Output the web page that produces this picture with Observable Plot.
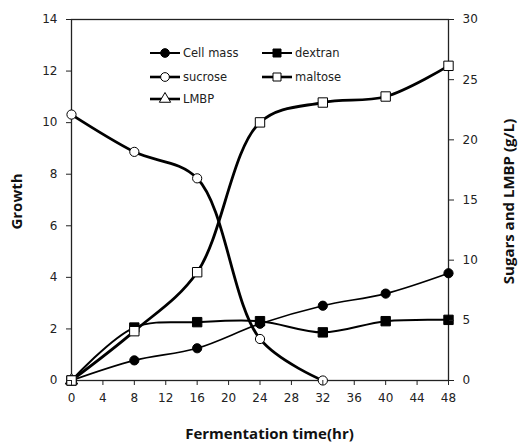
<!DOCTYPE html>
<html><head><meta charset="utf-8">
<script src="https://cdn.jsdelivr.net/npm/d3@7"></script>
<script src="https://cdn.jsdelivr.net/npm/@observablehq/plot@0.6"></script>
<style>
body{margin:0;background:#fff;}
#chart{position:relative;width:519px;height:444px;}
</style>
</head><body><div id="chart"></div>
<script>
// Data
const times = [0, 8, 16, 24, 32, 40, 48];
const cellMass = [0, 0.78, 1.25, 2.2, 2.9, 3.37, 4.16];        // growth (left axis)
const dextran  = [0, 4.4, 4.85, 4.93, 4.0, 4.93, 5.04];         // g/L (right axis)
const sucrose  = [22.1, 19.0, 16.8, 3.45, 0];                   // g/L, times 0..32
const maltose  = [0, 4.1, 9.0, 21.45, 23.1, 23.6, 26.15];      // g/L
const lmbp     = [0];                                           // g/L
const xTicks = [0,4,8,12,16,20,24,28,32,36,40,44,48];
const leftTicks = [0,2,4,6,8,10,12,14];
const rightTicks = [0,5,10,15,20,25,30];
const xTitle = "Fermentation time(hr)";
const yLeftTitle = "Growth";
const yRightTitle = "Sugars and LMBP (g/L)";

const G_MAX = 14, S_MAX = 30;
const toLeft = v => v * G_MAX / S_MAX;

const series = [
  {name:"Cell mass", vals: cellMass, scale:"g", symbol:"circle", fill:"#000", sw:1.6},
  {name:"dextran", vals: dextran, scale:"s", symbol:"square", fill:"#000", sw:2},
  {name:"sucrose", vals: sucrose, scale:"s", symbol:"circle", fill:"#fff", sw:2.8},
  {name:"maltose", vals: maltose, scale:"s", symbol:"square", fill:"#fff", sw:2.8},
  {name:"LMBP", vals: lmbp, scale:"s", symbol:"triangle", fill:"#fff", sw:2.8}
];
const rows = s => s.vals.map((v,i)=>({t: times[i], y: s.scale==="g" ? v : toLeft(v)}));

const marks = [];
marks.push(Plot.frame({stroke:"#222", strokeWidth:1.3}));
for (const s of series) {
  const d = rows(s);
  if (d.length > 1) marks.push(Plot.line(d, {x:"t", y:"y", curve:"catmull-rom", stroke:"#000", strokeWidth:s.sw}));
}
const dotOrder = ["LMBP","Cell mass","dextran","sucrose","maltose"];
for (const nm of dotOrder) {
  const s = series.find(q=>q.name===nm);
  const d = rows(s);
  marks.push(Plot.dot(d, {x:"t", y:"y", symbol: s.symbol, r: s.symbol==="square"?5.3:4.6, fill:s.fill, stroke:"#000", strokeWidth:1}));
}
marks.push(Plot.axisX(xTicks, {tickSize:5, tickPadding:8, fontSize:12, label:null}));
marks.push(Plot.axisY(leftTicks, {anchor:"left", tickSize:5, tickPadding:9, fontSize:12, label:null}));
marks.push(Plot.axisY(rightTicks.map(toLeft), {anchor:"right", tickSize:5, tickPadding:9, fontSize:12, tickFormat: d => String(Math.round(d*S_MAX/G_MAX)), label:null}));

const W = 519, H = 444, ML = 71, MR = 71, MT = 19, MB = 64;
const plot = Plot.plot({
  width:W, height:H,
  marginLeft:ML, marginRight:MR, marginTop:MT, marginBottom:MB,
  style:{fontFamily:"DejaVu Sans, sans-serif", fontSize:"12px", color:"#222", background:"#fff"},
  x:{domain:[0,48], label:null},
  y:{domain:[0,G_MAX], label:null},
  marks
});
document.getElementById("chart").appendChild(plot);

const svg = d3.select(plot);
const cy = (MT + H - MB) / 2 + 2;
const tg = svg.append("g").attr("font-family","Open Sans, sans-serif").attr("font-weight","bold").attr("font-size","15px").attr("fill","#111").attr("text-anchor","middle");
tg.append("text").attr("x",(ML + W - MR)/2 + 10).attr("y",H-5).text(xTitle);
tg.append("text").attr("transform",`translate(${ML-54},${cy}) rotate(-90)`).attr("dy","0.35em").text(yLeftTitle);
tg.append("text").attr("transform",`translate(${W-MR+61},${cy}) rotate(-90)`).attr("dy","0.35em").text(yRightTitle);

// legend
const lg = svg.append("g").attr("font-family","DejaVu Sans, sans-serif").attr("font-size","11.5px").attr("fill","#222").attr("text-anchor","start");
const layout = [[0,0],[1,0],[0,1],[1,1],[0,2]];
const legendOrder = ["Cell mass","dextran","sucrose","maltose","LMBP"];
const colX = [150, 262], rowY = [53, 77, 99];
legendOrder.forEach((nm,i)=>{
  const s = series.find(q=>q.name===nm);
  const [c,r] = layout[i];
  const x0 = colX[c], y0 = rowY[r];
  lg.append("line").attr("x1",x0).attr("x2",x0+30).attr("y1",y0).attr("y2",y0).attr("stroke","#000").attr("stroke-width",s.sw>2?2.6:2);
  const sym = s.symbol==="circle"?d3.symbolCircle: s.symbol==="square"?d3.symbolSquare:d3.symbolTriangle;
  const size = s.symbol==="square"?64: s.symbol==="circle"?60:55;
  lg.append("path").attr("d", d3.symbol(sym, size)()).attr("transform",`translate(${x0+15},${y0})`).attr("fill",s.fill).attr("stroke","#000").attr("stroke-width",1);
  lg.append("text").attr("x",x0+33).attr("y",y0).attr("dy","0.35em").text(nm);
});
</script>
</body></html>
